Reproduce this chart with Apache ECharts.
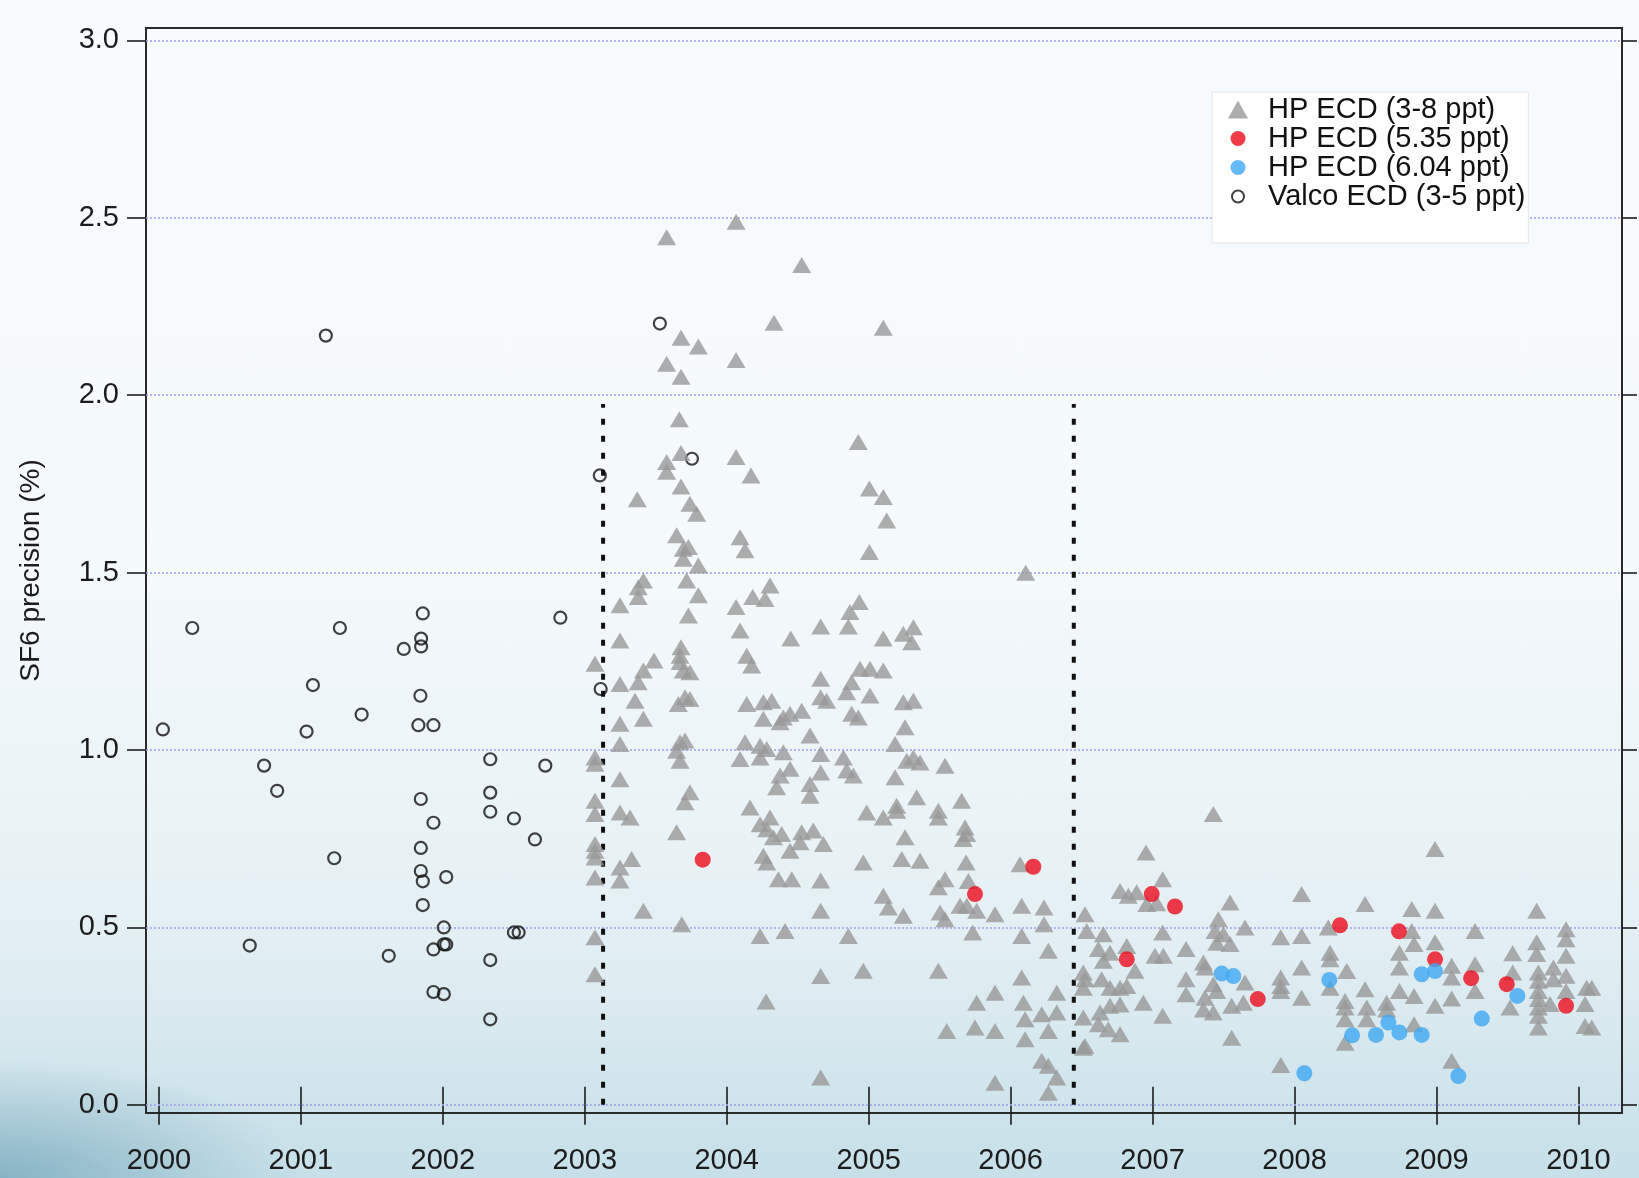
<!DOCTYPE html>
<html>
<head>
<meta charset="utf-8">
<title>SF6 precision</title>
<script src="https://cdn.jsdelivr.net/npm/echarts@6/dist/echarts.min.js"></script>
<style>
  html, body { margin: 0; padding: 0; width: 1639px; height: 1178px; overflow: hidden; }
  body {
    background:
      radial-gradient(ellipse 300px 120px at 0% 100%, rgba(70,135,160,0.5), rgba(70,135,160,0) 100%),
      linear-gradient(to bottom, #f8fbfd 0%, #f4f9fb 50%, #e5f0f4 78%, #c6dfe8 100%);
  }
  #chart { width: 1639px; height: 1178px; }
</style>
</head>
<body>
<div id="chart"></div>
<script>
// Axis tick positions
const yearTicks = [2000, 2001, 2002, 2003, 2004, 2005, 2006, 2007, 2008, 2009, 2010];
const precisionTicks = [0, 0.5, 1.0, 1.5, 2.0, 2.5, 3.0];

// Instrument change dates (dotted separators) and their top value
const changeYears = [2003.129, 2006.445];
const changeTop = 1.975;

// Valco ECD (3-5 ppt): [decimal year, precision %]
const valcoEcd = [
  [2001.176,2.168],[2000.235,1.344],[2001.275,1.344],[2001.859,1.385],[2001.725,1.285],[2001.847,1.314],
  [2001.847,1.292],[2002.828,1.373],[2001.085,1.183],[2001.428,1.100],[2001.842,1.153],[2000.028,1.058],
  [2001.040,1.052],[2001.828,1.070],[2001.934,1.070],[2000.741,0.956],[2000.833,0.885],[2002.334,0.974],
  [2002.722,0.956],[2001.845,0.862],[2001.934,0.795],[2002.334,0.880],[2002.334,0.826],[2002.501,0.807],
  [2002.649,0.748],[2001.235,0.695],[2001.845,0.724],[2001.845,0.659],[2001.859,0.630],[2002.024,0.642],
  [2001.859,0.563],[2002.007,0.500],[2002.007,0.452],[2002.024,0.452],[2001.934,0.438],[2002.501,0.486],
  [2002.534,0.486],[2000.640,0.449],[2001.619,0.420],[2002.334,0.408],[2001.934,0.318],[2002.007,0.312],
  [2002.334,0.241],[2003.106,1.774],[2003.112,1.172],[2003.529,2.202],[2003.755,1.821]
];

// HP ECD (3-8 ppt), 2003-2005 upper part
const hpEcdEarlyHigh = [
  [2004.066,2.489],[2003.577,2.445],[2004.528,2.367],[2004.333,2.204],[2003.678,2.162],[2003.800,2.137],
  [2003.577,2.089],[2004.066,2.099],[2003.678,2.052],[2003.666,1.932],[2003.678,1.837],[2003.577,1.812],
  [2003.577,1.784],[2004.066,1.826],[2004.171,1.774],[2004.927,1.868],[2003.370,1.707],[2003.678,1.743],
  [2003.741,1.694],[2003.788,1.666],[2005.005,1.737],[2003.647,1.605],[2003.694,1.567],[2003.730,1.572],
  [2003.694,1.539],[2003.800,1.520],[2004.094,1.600],[2004.129,1.563],[2005.005,1.558],[2003.413,1.478],
  [2003.377,1.459],[2003.377,1.431],[2003.248,1.408],[2003.718,1.478],[2003.800,1.436],[2003.730,1.379],
  [2004.066,1.403],[2004.183,1.431],[2004.305,1.464],[2004.270,1.426],[2004.934,1.417],[2004.868,1.389],
  [2004.857,1.348],[2004.662,1.348],[2004.094,1.337],[2004.451,1.314],[2003.248,1.309],[2003.678,1.290],
  [2005.103,2.190],[2005.103,1.713],[2005.127,1.647],[2006.106,1.500],[2005.103,1.314],[2005.244,1.328],
  [2005.315,1.346],[2005.303,1.304]
];

// HP ECD (3-8 ppt), 2003-2005 lower part
const hpEcdEarlyLow = [
  [2003.072,1.243],[2003.488,1.252],[2003.413,1.224],[2003.377,1.191],[2003.671,1.266],[2003.671,1.248],
  [2003.694,1.224],[2003.741,1.219],[2004.141,1.266],[2004.176,1.238],[2003.248,1.186],[2003.354,1.139],
  [2004.662,1.201],[2004.939,1.229],[2005.009,1.229],[2004.880,1.191],[2004.845,1.163],[2005.009,1.154],
  [2003.248,1.074],[2003.413,1.088],[2003.659,1.130],[2003.706,1.149],[2003.741,1.144],[2004.141,1.130],
  [2004.258,1.135],[2004.317,1.139],[2004.258,1.088],[2004.399,1.092],[2004.446,1.102],[2004.528,1.111],
  [2004.376,1.078],[2004.662,1.149],[2004.704,1.139],[2004.880,1.102],[2004.927,1.092],[2003.248,1.017],
  [2003.072,0.979],[2003.072,0.961],[2003.671,1.022],[2003.706,1.027],[2003.647,0.998],[2003.671,0.970],
  [2004.129,1.022],[2004.235,1.012],[2004.282,1.003],[2004.235,0.979],[2004.094,0.975],[2004.399,0.994],
  [2004.587,1.041],[2004.662,0.989],[2004.822,0.979],[2004.845,0.942],[2004.892,0.928],[2003.248,0.918],
  [2003.741,0.881],[2003.706,0.853],[2003.072,0.857],[2003.072,0.820],[2003.248,0.824],[2003.319,0.810],
  [2004.164,0.838],[2004.376,0.928],[2004.446,0.947],[2004.352,0.895],[2004.587,0.904],[2004.587,0.871],
  [2004.662,0.937],[2004.986,0.824],[2003.647,0.768],[2004.235,0.791],[2004.305,0.810],[2004.282,0.777],
  [2004.329,0.754],[2004.387,0.763],[2004.528,0.768],[2004.610,0.773],[2004.681,0.735],[2004.516,0.740],
  [2004.446,0.716],[2003.072,0.735],[2003.072,0.716],[2003.072,0.697],[2003.248,0.669],[2003.330,0.693],
  [2003.248,0.632],[2003.072,0.641],[2004.258,0.702],[2004.282,0.683],[2004.364,0.636],[2004.458,0.636],
  [2004.662,0.632],[2004.962,0.683],[2003.413,0.547],[2003.683,0.509],[2003.072,0.472],[2003.072,0.368],
  [2004.235,0.476],[2004.411,0.490],[2004.662,0.547],[2004.857,0.476],[2004.962,0.378],[2004.662,0.363],
  [2004.277,0.291],[2004.662,0.077]
];

// HP ECD (3-8 ppt), 2005-2006.5
const hpEcdMid = [
  [2005.103,1.224],[2005.244,1.135],[2005.315,1.139],[2005.256,1.064],[2005.186,1.017],[2005.268,0.970],
  [2005.315,0.979],[2005.362,0.965],[2005.538,0.956],[2005.186,0.923],[2005.338,0.867],[2005.197,0.843],
  [2005.197,0.829],[2005.103,0.810],[2005.491,0.829],[2005.491,0.810],[2005.655,0.857],[2005.679,0.782],
  [2005.691,0.763],[2005.667,0.749],[2005.256,0.754],[2005.233,0.693],[2005.362,0.688],[2005.686,0.683],
  [2005.538,0.636],[2005.491,0.613],[2005.702,0.631],[2006.066,0.678],[2005.103,0.589],[2005.139,0.556],
  [2005.244,0.533],[2005.503,0.542],[2005.538,0.523],[2005.644,0.561],[2005.691,0.561],[2005.761,0.547],
  [2005.890,0.537],[2006.078,0.561],[2006.235,0.556],[2006.235,0.509],[2005.733,0.486],[2006.078,0.476],
  [2006.266,0.434],[2005.491,0.378],[2006.078,0.359],[2005.761,0.288],[2005.890,0.316],[2006.090,0.288],
  [2006.102,0.241],[2006.325,0.316],[2006.325,0.260],[2006.219,0.255],[2006.266,0.208],[2005.550,0.208],
  [2005.749,0.218],[2005.890,0.208],[2006.102,0.185],[2006.219,0.124],[2006.266,0.110],[2006.325,0.077],
  [2005.890,0.062],[2006.266,0.034]
];

// HP ECD (3-8 ppt), 2006.5-2008.3
const hpEcdLate = [
  [2006.524,0.537],[2006.536,0.490],[2006.653,0.481],[2006.618,0.439],[2006.700,0.429],[2006.653,0.406],
  [2006.818,0.448],[2006.876,0.378],[2006.512,0.373],[2006.524,0.354],[2006.512,0.330],[2006.641,0.354],
  [2006.700,0.330],[2006.771,0.330],[2006.818,0.335],[2006.630,0.260],[2006.700,0.279],[2006.771,0.283],
  [2006.512,0.246],[2006.618,0.227],[2006.688,0.213],[2006.771,0.199],[2006.524,0.166],[2006.512,0.161],
  [2006.935,0.288],[2007.071,0.251],[2006.954,0.711],[2006.771,0.603],[2006.829,0.589],[2006.888,0.599],
  [2006.959,0.566],[2007.029,0.568],[2007.071,0.636],[2007.071,0.486],[2007.017,0.420],[2007.076,0.420],
  [2007.236,0.439],[2007.236,0.354],[2007.236,0.312],[2007.358,0.401],[2007.369,0.387],[2007.428,0.820],
  [2007.546,0.570],[2007.463,0.523],[2007.440,0.490],[2007.499,0.481],[2007.452,0.457],[2007.546,0.453],
  [2007.651,0.500],[2007.428,0.340],[2007.452,0.321],[2007.369,0.302],[2007.358,0.269],[2007.428,0.260],
  [2007.651,0.345],[2007.557,0.279],[2007.640,0.288],[2007.557,0.189],[2007.903,0.472],[2007.903,0.359],
  [2007.903,0.335],[2007.903,0.321],[2008.050,0.594],[2008.050,0.476],[2008.050,0.387],[2008.050,0.302],
  [2007.903,0.112],[2008.238,0.500],[2008.250,0.429],[2008.250,0.410],[2008.250,0.330]
];

// HP ECD (3-8 ppt), 2008.3-2010
const hpEcdRecent = [
  [2008.368,0.377],[2008.356,0.293],[2008.356,0.274],[2008.356,0.241],[2008.356,0.175],[2008.497,0.566],
  [2008.497,0.326],[2008.509,0.274],[2008.509,0.241],[2008.649,0.288],[2008.649,0.269],[2008.826,0.552],
  [2008.826,0.490],[2008.842,0.453],[2008.739,0.429],[2008.739,0.387],[2008.739,0.321],[2008.842,0.307],
  [2008.842,0.227],[2008.990,0.547],[2008.990,0.458],[2008.990,0.279],[2009.107,0.392],[2009.107,0.359],
  [2009.107,0.300],[2008.990,0.721],[2009.107,0.124],[2009.272,0.490],[2009.272,0.396],[2009.272,0.321],
  [2009.537,0.427],[2009.537,0.373],[2009.518,0.274],[2009.706,0.547],[2009.706,0.458],[2009.706,0.425],
  [2009.718,0.373],[2009.718,0.350],[2009.718,0.321],[2009.718,0.298],[2009.718,0.274],[2009.718,0.251],
  [2009.718,0.218],[2009.824,0.387],[2009.824,0.354],[2009.800,0.284],[2009.913,0.495],[2009.913,0.467],
  [2009.913,0.420],[2009.913,0.364],[2009.913,0.321],[2010.058,0.330],[2010.094,0.330],[2010.047,0.284],
  [2010.047,0.222],[2010.094,0.218]
];

// HP ECD with 5.35 ppt standard
const hpEcd535 = [
  [2003.831,0.691],[2005.749,0.594],[2006.160,0.671],[2006.818,0.410],[2006.994,0.594],[2007.158,0.559],
  [2007.741,0.298],[2008.320,0.506],[2008.736,0.489],[2008.990,0.410],[2009.244,0.357],[2009.495,0.340],
  [2009.913,0.279]
];

// HP ECD with 6.04 ppt standard
const hpEcd604 = [
  [2007.487,0.370],[2007.569,0.363],[2008.069,0.089],[2008.245,0.352],[2008.406,0.196],[2008.574,0.197],
  [2008.661,0.232],[2008.739,0.204],[2008.896,0.197],[2008.896,0.368],[2008.990,0.377],[2009.154,0.081],
  [2009.319,0.243],[2009.570,0.307]
];

const hpEcd38 = [].concat(hpEcdEarlyHigh, hpEcdEarlyLow, hpEcdMid, hpEcdLate, hpEcdRecent);

const names = {
  hp38: 'HP ECD (3-8 ppt)',
  hp535: 'HP ECD (5.35 ppt)',
  hp604: 'HP ECD (6.04 ppt)',
  valco: 'Valco ECD (3-5 ppt)'
};

const FONT = '"Liberation Sans", Arial, Helvetica, sans-serif';
const INK = '#1c1c1c';

const chart = echarts.init(document.getElementById('chart'), null, { renderer: 'canvas' });

const changeSeries = changeYears.map((yr, i) => ({
  type: 'line',
  xAxisIndex: 0,
  yAxisIndex: 0,
  data: [[yr, 0], [yr, changeTop]],
  symbol: 'none',
  silent: true,
  z: 3,
  lineStyle: { color: '#111', width: 4, type: [6, 11] },
  markLine: i === 0 ? {
    silent: true,
    symbol: ['none', 'none'],
    label: { show: false },
    lineStyle: { color: '#a3a3f2', width: 1.6, type: [2, 2] },
    data: precisionTicks.map(v => ({ yAxis: v })),
    z: 1
  } : undefined
}));

const option = {
  animation: false,
  backgroundColor: 'transparent',
  textStyle: { fontFamily: FONT },
  grid: {
    left: 146, right: 17, top: 28, bottom: 65,
    outerBoundsMode: 'none',
    containLabel: false,
    show: true, borderColor: '#2a2a2a', borderWidth: 2, backgroundColor: 'transparent'
  },
  xAxis: [
    {
      type: 'value', position: 'bottom', min: 1999.909, max: 2010.307,
      axisLine: { show: false }, splitLine: { show: false },
      axisTick: { show: true, customValues: yearTicks, length: 20, lineStyle: { color: INK, width: 1.6 } },
      axisLabel: { customValues: yearTicks, margin: 33, fontSize: 29, color: INK, fontFamily: FONT,
                   formatter: v => String(Math.round(v)) }
    },
    {
      type: 'value', position: 'top', min: 1999.909, max: 2010.307,
      axisLine: { show: false }, splitLine: { show: false },
      axisTick: { show: true, customValues: yearTicks, length: 18, lineStyle: { color: INK, width: 1.6 } },
      axisLabel: { show: false }
    }
  ],
  yAxis: [
    {
      type: 'value', position: 'left', min: -0.023, max: 3.035,
      name: 'SF6 precision (%)', nameLocation: 'middle', nameGap: 101, nameRotate: 90,
      nameTextStyle: { fontSize: 28, color: INK, fontFamily: FONT },
      axisLine: { show: false }, splitLine: { show: false },
      axisTick: { show: true, customValues: precisionTicks, length: 19, lineStyle: { color: INK, width: 1.6 } },
      axisLabel: { customValues: precisionTicks, margin: 27, fontSize: 29, color: INK, fontFamily: FONT,
                   formatter: v => v.toFixed(1) }
    },
    {
      type: 'value', position: 'right', min: -0.023, max: 3.035,
      axisLine: { show: false }, splitLine: { show: false },
      axisTick: { show: true, customValues: precisionTicks, length: 15, lineStyle: { color: INK, width: 1.6 } },
      axisLabel: { show: false }
    }
  ],
  legend: {
    orient: 'vertical',
    left: 1212, top: 92,
    backgroundColor: '#ffffff',
    borderColor: '#e6e6e6', borderWidth: 1,
    padding: [3, 3, 32, 13],
    itemGap: 0,
    itemWidth: 24, itemHeight: 24,
    textStyle: { fontSize: 29, lineHeight: 29, color: '#111', fontFamily: FONT, padding: [0, 0, 0, 13] },
    data: [
      { name: names.hp38, icon: 'path://M0,0M24,24M2,21L12,3L22,21Z' },
      { name: names.hp535, icon: 'path://M0,0M24,24M4.5,12a7.5,7.5 0 1,0 15,0a7.5,7.5 0 1,0 -15,0Z' },
      { name: names.hp604, icon: 'path://M0,0M24,24M4.5,12a7.5,7.5 0 1,0 15,0a7.5,7.5 0 1,0 -15,0Z' },
      { name: names.valco, icon: 'path://M0,0M24,24M6,12a6,6 0 1,0 12,0a6,6 0 1,0 -12,0Z',
        itemStyle: { color: 'rgba(0,0,0,0)', borderColor: '#111', borderWidth: 2 } }
    ]
  },
  series: [
    ...changeSeries,
    {
      name: names.valco, type: 'scatter', data: valcoEcd,
      symbol: 'circle', symbolSize: 12, z: 4,
      itemStyle: { color: 'rgba(0,0,0,0)', borderColor: '#111', borderWidth: 2.2 }
    },
    {
      name: names.hp38, type: 'scatter', data: hpEcd38,
      symbol: 'triangle', symbolSize: [19, 16], z: 5,
      itemStyle: { color: '#989898' }
    },
    {
      name: names.hp535, type: 'scatter', data: hpEcd535,
      symbol: 'circle', symbolSize: 16, z: 6,
      itemStyle: { color: '#ec0b1c' }
    },
    {
      name: names.hp604, type: 'scatter', data: hpEcd604,
      symbol: 'circle', symbolSize: 16, z: 6,
      itemStyle: { color: '#3ea7f2' }
    }
  ]
};

chart.setOption(option);
</script>
</body>
</html>
